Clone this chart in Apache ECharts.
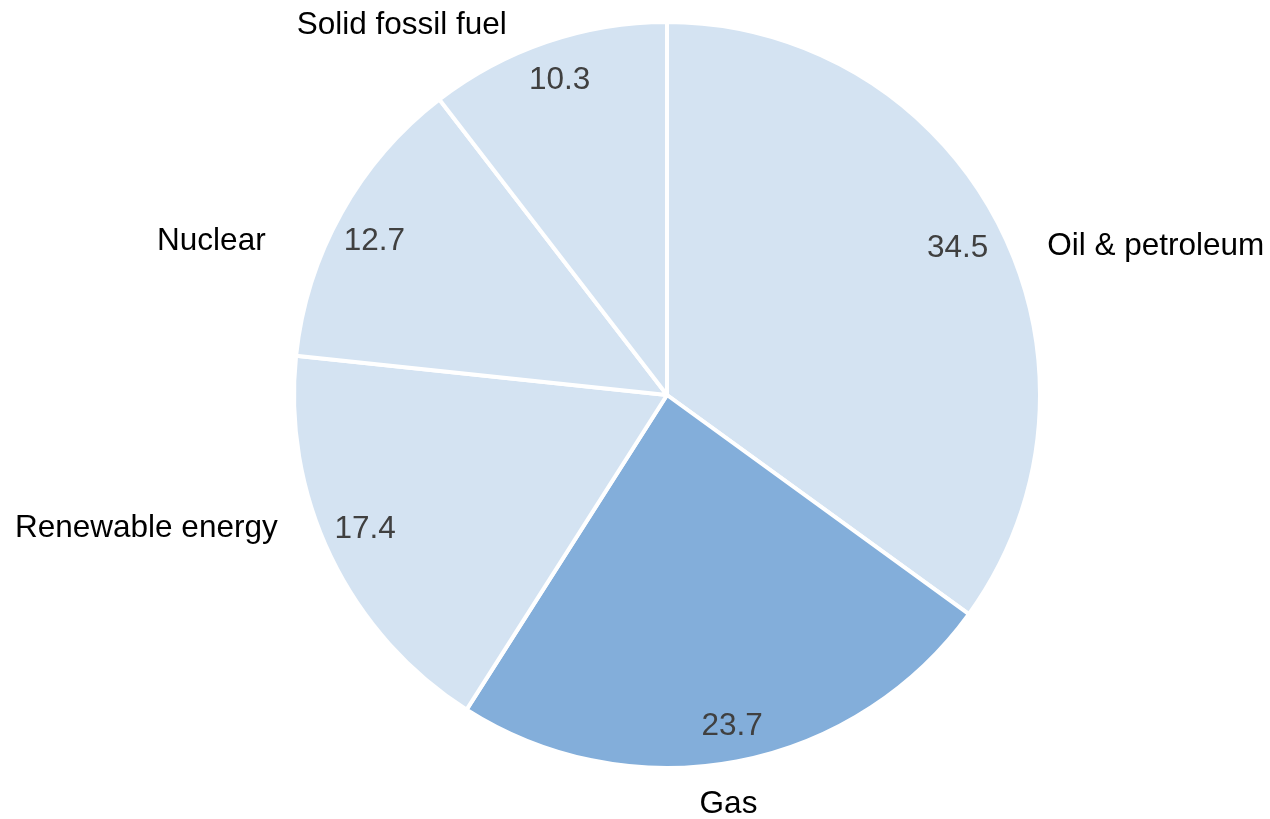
<!DOCTYPE html>
<html>
<head>
<meta charset="utf-8">
<script src="https://cdn.jsdelivr.net/npm/echarts@6/dist/echarts.min.js"></script>
<style>
html,body{margin:0;padding:0;background:#fff;}
#chart{width:1270px;height:819px;}
</style>
</head>
<body>
<div id="chart"></div>
<script>
const categories = ['Oil & petroleum', 'Gas', 'Renewable energy', 'Nuclear', 'Solid fossil fuel'];
const values = [34.5, 23.7, 17.4, 12.7, 10.3];
const highlighted = ['Gas'];

// small label nudges (px) relative to ECharts' own label placement
const nameLabelNudge = [[10, 38], [-49, 7], [-15, -45], [-46, 46], [-23, 8]];
const valueLabelNudge = [[-6, 5], [3, 4], [-2, -10], [-2, 9], [0, 1]];

const lightColor = '#D4E3F2';
const darkColor = '#83AEDA';
const font = '"Liberation Sans", Arial, sans-serif';

const pieData = categories.map((c, i) => ({
  name: c,
  value: values[i],
  itemStyle: { color: highlighted.includes(c) ? darkColor : lightColor }
}));
const valueData = categories.map((c, i) => ({ name: c, value: values[i] }));

const chart = echarts.init(document.getElementById('chart'), null, { renderer: 'canvas' });
chart.setOption({
  backgroundColor: '#ffffff',
  animation: false,
  series: [
    {
      type: 'pie',
      center: [667, 395],
      radius: [0, 373],
      startAngle: 90,
      clockwise: true,
      data: pieData,
      itemStyle: { borderColor: '#ffffff', borderWidth: 4 },
      label: {
        show: true,
        position: 'outside',
        formatter: '{b}',
        color: '#000000',
        fontSize: 31.5,
        fontFamily: font,
        distanceToLabelLine: 5
      },
      labelLine: { show: false, length: 37, length2: 0 },
      labelLayout: function (p) {
        const n = nameLabelNudge[p.dataIndex];
        return { dx: n[0], dy: n[1] };
      },
      emphasis: { disabled: true }
    },
    {
      type: 'pie',
      center: [667, 395],
      radius: [287, 373],
      startAngle: 90,
      clockwise: true,
      silent: true,
      data: valueData,
      itemStyle: { color: 'rgba(0,0,0,0)', borderWidth: 0 },
      label: {
        show: true,
        position: 'inside',
        formatter: '{c}',
        color: '#404040',
        fontSize: 31.5,
        fontFamily: font
      },
      labelLayout: function (p) {
        const n = valueLabelNudge[p.dataIndex];
        return { dx: n[0], dy: n[1] };
      },
      labelLine: { show: false },
      emphasis: { disabled: true }
    }
  ]
});
</script>
</body>
</html>
